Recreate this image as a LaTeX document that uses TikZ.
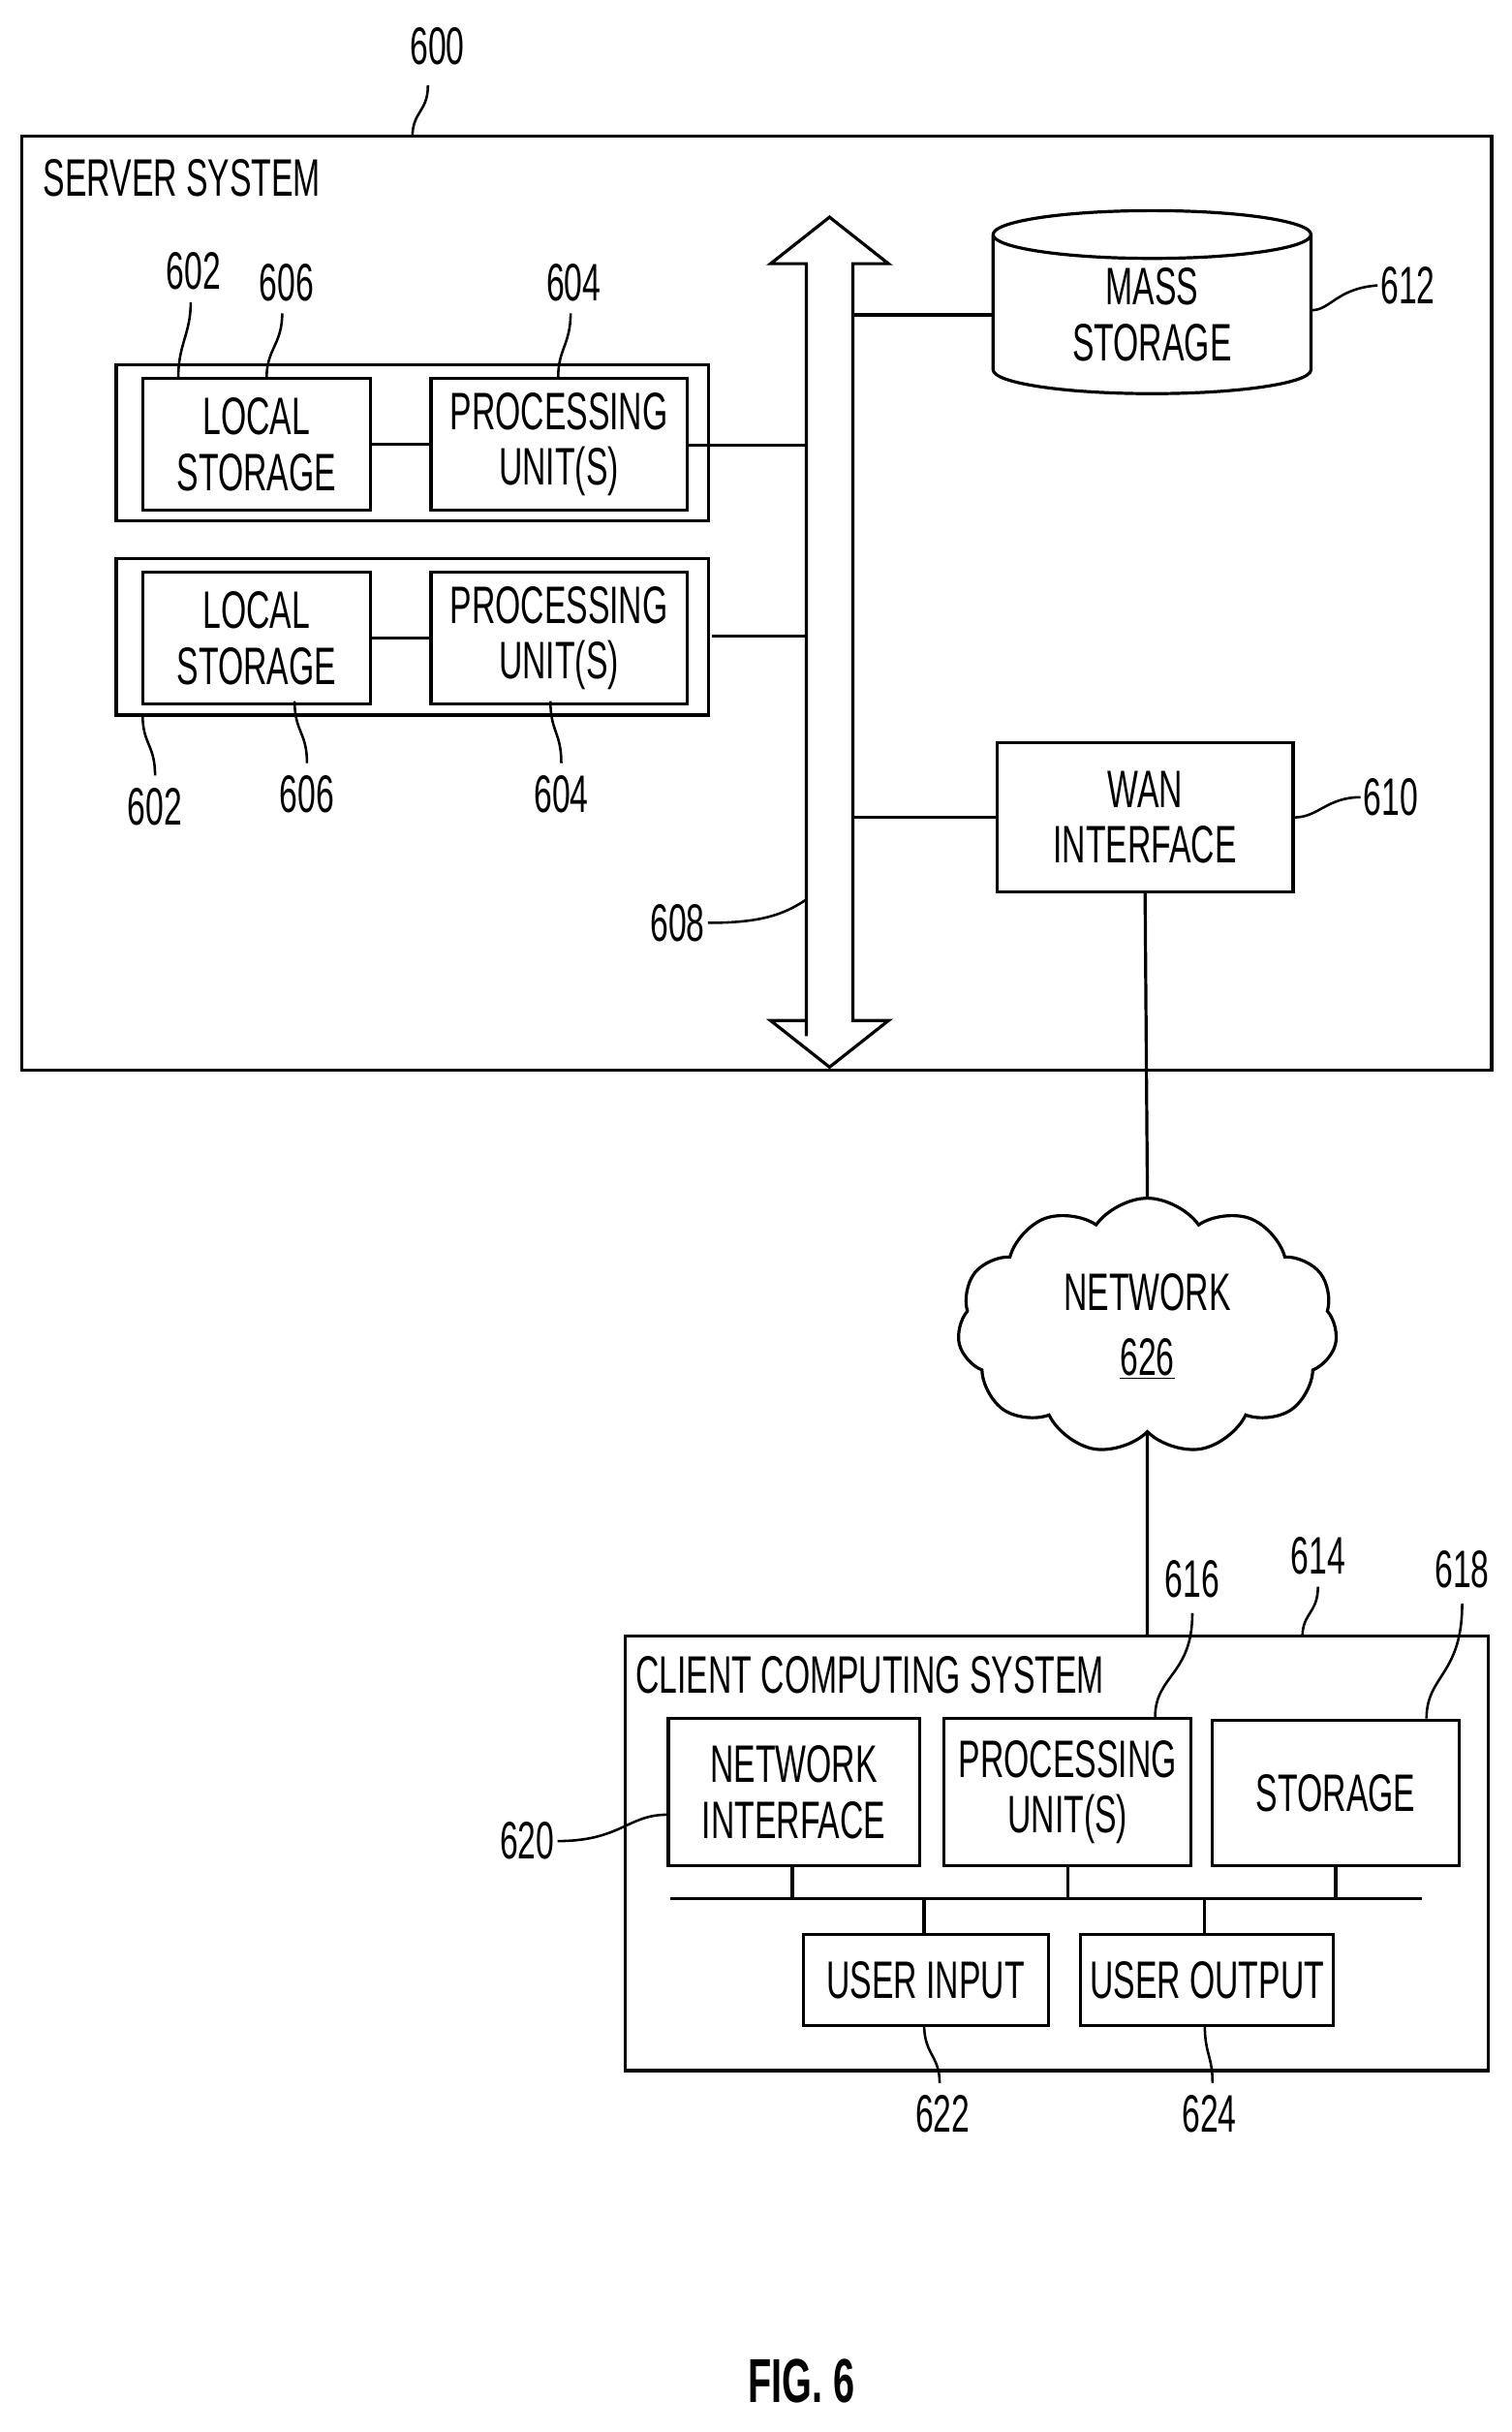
\documentclass[tikz,border=0pt]{standalone}
\usepackage{fontspec}
\setmainfont{Liberation Sans}[FakeStretch=0.62]
\usetikzlibrary{shapes.symbols,shapes.geometric}

\begin{document}
\begin{tikzpicture}[x=1pt,y=-1pt,line width=2pt,
  font=\fontsize{34}{36}\selectfont,
  box/.style={draw,align=center,inner sep=0pt},
  lbl/.style={inner sep=1pt},
  lead/.style={line width=1.6pt}]
\useasboundingbox (0,0) rectangle (975,1568);

%Server system
\draw (14,88) rectangle (962,690);
\node [anchor=west,lbl] (srvtxt) at (26,115) {SERVER SYSTEM};
\node [lbl] (n600) at (282,30) {600};
\draw [lead] (276,55) .. controls (276,72) and (266,72) .. (266,88);

%Modules
\foreach \i/\y in {1/235,2/360}{
  \draw (75,\y) rectangle (457,\y+101);
  \node [box,minimum width=147,minimum height=85,anchor=north west] (ls\i) at (91,\y+8) {LOCAL\\STORAGE};
  \node [box,minimum width=165,minimum height=85,anchor=north west] (pu\i) at (277,\y+8) {PROCESSING\\UNIT(S)};
  \draw (ls\i) -- (pu\i);
}

%Bus
\draw [fill=white] (520,668) -- (520,170) -- (497,170) -- (535,140) -- (573,170) -- (550,170)
  -- (550,658) -- (573,658) -- (535,688) -- (497,658) -- (520,658) -- cycle;
\coordinate (b1) at (520,287);
\coordinate (b2) at (520,410);
\coordinate (b3) at (550,203);
\coordinate (b4) at (550,527);
\draw (pu1.east |- b1) -- (b1);
\draw (pu2.east |- b2) ++(15,0) -- (b2);
\draw (b1) ++(-63,0) -- (b1);

%Mass storage
\node [cylinder,shape border rotate=90,draw,aspect=0.3,minimum width=205,minimum height=118,
  align=center,inner sep=0pt] (mass) at (743,203) {MASS\\STORAGE};
\draw (b3) -- (mass.west |- b3);
\node [lbl] (n612) at (908,184) {612};
\draw [lead] (846,200) .. controls (858,200) and (862,186) .. (n612.west);

%WAN
\node [box,minimum width=191,minimum height=96] (wan) at (738.5,527) {WAN\\INTERFACE};
\draw (b4) -- (wan.west);
\node [lbl] (n610) at (897,514) {610};
\draw [lead] (wan.east) .. controls (850,527) and (856,514) .. (n610.west);
\node [lbl] (n608) at (437,595) {608};
\draw [lead] (n608.east) .. controls (490,595) and (505,590) .. (520,580);

%Module labels
\node [lbl] (n602a) at (125,175) {602};
\draw [lead] (123,195) .. controls (123,215) and (115,222) .. (115,243);
\node [lbl] (n606a) at (185,182) {606};
\draw [lead] (182,202) .. controls (182,222) and (172,225) .. (172,243);
\node [lbl] (n604a) at (370,182) {604};
\draw [lead] (368,202) .. controls (368,222) and (360,225) .. (360,243);
\node [lbl] (n602b) at (100,520) {602};
\draw [lead] (92,461) .. controls (92,480) and (100,480) .. (100,500);
\node [lbl] (n606b) at (198,512) {606};
\draw [lead] (190,452) .. controls (190,472) and (198,472) .. (198,492);
\node [lbl] (n604b) at (362,512) {604};
\draw [lead] (355,452) .. controls (355,472) and (362,472) .. (362,492);

%Network
\node [cloud,draw,cloud puffs=11,cloud puff arc=110,aspect=1.5,minimum width=245,minimum height=165,
  align=center,inner sep=0pt] (net) at (740,855) {NETWORK\\[6pt]\underline{626}};
\draw (wan.south) -- (net.north);

%Client system
\draw (403,1055) rectangle (960,1335);
\node [anchor=west,lbl] (clitxt) at (408,1080) {CLIENT COMPUTING SYSTEM};
\draw (net.south) -- (740,1055);
\node [box,minimum width=162,minimum height=95,anchor=north west] (ni) at (430,1107) {NETWORK\\INTERFACE};
\node [box,minimum width=159,minimum height=95,anchor=north west] (cpu) at (608,1107) {PROCESSING\\UNIT(S)};
\node [box,minimum width=159,minimum height=94,anchor=north west] (sto) at (781,1108) {STORAGE};
\node [box,minimum width=158,minimum height=59,anchor=north west] (uin) at (517,1246) {USER INPUT};
\node [box,minimum width=163,minimum height=59,anchor=north west] (uout) at (696,1246) {USER OUTPUT};
\coordinate (cbl) at (432,1224);
\coordinate (cbr) at (917,1224);
\draw (cbl) -- (cbr);
\draw (ni.south -| 511,0) -- (511,1224);
\draw (cpu.south) -- (cpu.south |- cbl);
\draw (sto.south) -- (sto.south |- cbl);
\draw (uin.north -| 596,0) -- (596,1224);
\draw (uout.north -| 777,0) -- (777,1224);

%Client labels
\node [lbl] (n614) at (850,1003) {614};
\draw [lead] (850,1023) .. controls (850,1040) and (840,1040) .. (840,1055);
\node [lbl] (n616) at (769,1018) {616};
\draw [lead] (769,1040) .. controls (769,1080) and (745,1080) .. (745,1107);
\node [lbl] (n618) at (943,1012) {618};
\draw [lead] (943,1034) .. controls (943,1080) and (920,1080) .. (920,1108);
\node [lbl] (n620) at (340,1187) {620};
\draw [lead] (n620.east) .. controls (400,1187) and (405,1170) .. (430,1170);
\node [lbl] (n622) at (608,1363) {622};
\draw [lead] (596,1305) .. controls (596,1325) and (606,1325) .. (606,1343);
\node [lbl] (n624) at (780,1363) {624};
\draw [lead] (777,1305) .. controls (777,1325) and (782,1325) .. (782,1343);

\node [font=\fontsize{40}{44}\selectfont\bfseries] (fig) at (517,1535) {FIG. 6};
\end{tikzpicture}
\end{document}
